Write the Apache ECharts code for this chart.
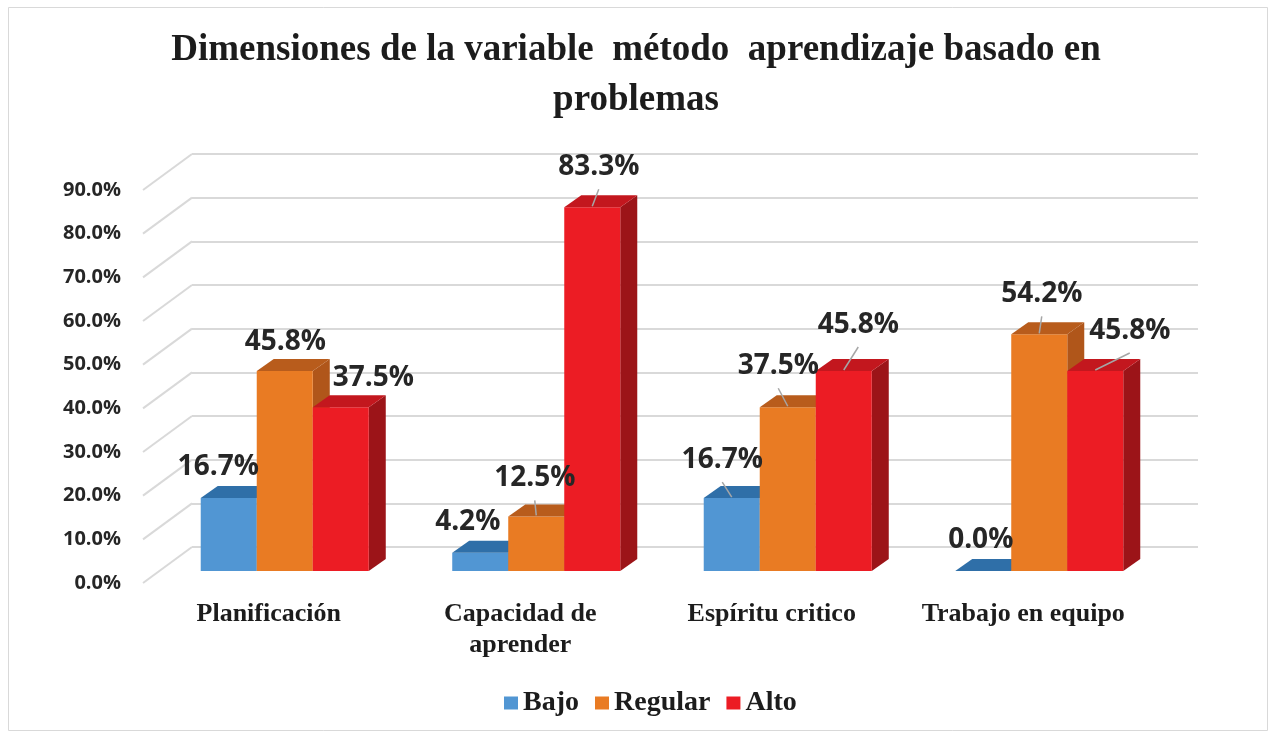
<!DOCTYPE html>
<html>
<head>
<meta charset="utf-8">
<script src="https://cdn.jsdelivr.net/npm/echarts@6/dist/echarts.min.js"></script>
<style>
  html, body { margin: 0; padding: 0; background: #fff; }
  #chart { width: 1272px; height: 738px; }
</style>
</head>
<body>
<div id="chart"></div>
<script>
// datos
const categories = ['Planificación', 'Capacidad de\naprender', 'Espíritu critico', 'Trabajo en equipo'];
const bajo = [16.7, 4.2, 16.7, 0.0];
const regular = [45.8, 12.5, 37.5, 54.2];
const alto = [37.5, 83.3, 45.8, 45.8];
const yTicks = [0, 10, 20, 30, 40, 50, 60, 70, 80, 90];

// estilo de las barras 3D
const DX = 17, DY = -12;
const barColors = [
  { front: '#5196d3', top: '#2f6fa8', side: '#2a6399' },
  { front: '#e97b23', top: '#b85c1c', side: '#b0561a' },
  { front: '#ec1c24', top: '#c3171e', side: '#9c1418' }
];
// desplazamiento de etiquetas respecto a la cara superior
const labelOffsets = [
  [[-19, -25], [-21, -25], [-18, -32], [-11, -25]],
  [[-8, -23], [-10, -32], [-18, -35], [-6, -34]],
  [[24, -23], [-2, -34], [6, -40], [26, -34]]
];
const leaders = [
  [0, 0, 1, 0],
  [0, 1, 1, 1],
  [0, 1, 1, 1]
];

function bar3d(idx) {
  return function (params, api) {
    const cat = api.value(0);
    const v = api.value(1);
    const base = api.coord([cat, 0]);
    const top = api.coord([cat, v]);
    const band = api.size([1, 0])[0];
    const w = band * 0.2227;
    const cx = base[0] + (idx - 1) * w;
    const x0 = cx - w / 2, x1 = cx + w / 2;
    const c = barColors[idx];
    const children = [
      {
        type: 'polygon',
        shape: { points: [[x1, top[1]], [x1 + DX, top[1] + DY], [x1 + DX, base[1] + DY], [x1, base[1]]] },
        style: { fill: c.side }
      },
      {
        type: 'rect',
        shape: { x: x0, y: top[1], width: w, height: base[1] - top[1] },
        style: { fill: c.front }
      },
      {
        type: 'polygon',
        shape: { points: [[x0, top[1]], [x1, top[1]], [x1 + DX, top[1] + DY], [x0 + DX, top[1] + DY]] },
        style: { fill: c.top }
      }
    ];
    const off = labelOffsets[idx][params.dataIndex];
    const lx = cx + DX / 2 + off[0];
    const ly = top[1] + DY / 2 + off[1];
    if (leaders[idx][params.dataIndex]) {
      children.push({
        type: 'line',
        z2: 50,
        shape: { x1: lx, y1: ly + 22, x2: cx, y2: top[1] - 1 },
        style: { stroke: '#a6a6a6', lineWidth: 1.5 }
      });
    }
    children.push({
      type: 'text',
      z2: 100,
      style: {
        x: lx, y: ly,
        text: v.toFixed(1) + '%',
        align: 'center',
        verticalAlign: 'middle',
        fill: '#262626',
        font: 'bold 28px "Open Sans"'
      }
    });
    return { type: 'group', children: children };
  };
}

function diagonal(params, api) {
  const y = api.coord([0, api.value(1)])[1];
  const x = params.coordSys.x;
  return {
    type: 'line',
    shape: { x1: x, y1: y, x2: x + 49, y2: y - 36 },
    style: { stroke: '#d9d9d9', lineWidth: 2 }
  };
}

const chart = echarts.init(document.getElementById('chart'));
const yBase = { type: 'value', min: 0, max: 90, interval: 10 };
const option = {
  backgroundColor: '#fff',
  animation: false,
  title: {
    text: 'Dimensiones de la variable  método  aprendizaje basado en\nproblemas',
    left: 'center',
    top: 25,
    padding: 0,
    textStyle: {
      fontFamily: 'Liberation Serif',
      fontWeight: 'bold',
      fontSize: 37,
      lineHeight: 50,
      color: '#1c1c1c'
    }
  },
  graphic: [{
    type: 'rect',
    shape: { x: 8.5, y: 7.5, width: 1259, height: 723 },
    style: { fill: 'none', stroke: '#d9d9d9', lineWidth: 1 }
  }],
  legend: {
    data: ['Bajo', 'Regular', 'Alto'],
    left: 504,
    top: 689,
    padding: 0,
    icon: 'rect',
    itemWidth: 14,
    itemHeight: 13,
    itemGap: 16,
    textStyle: {
      fontFamily: 'Liberation Serif',
      fontWeight: 'bold',
      fontSize: 28,
      lineHeight: 28,
      color: '#1c1c1c'
    }
  },
  grid: [
    { left: 192, right: 74, top: 154, bottom: 191 },
    { left: 159, right: 107, top: 178, bottom: 167 },
    { left: 143, right: 123, top: 190, bottom: 155 }
  ],
  xAxis: [
    { type: 'category', gridIndex: 0, data: categories, show: false },
    { type: 'category', gridIndex: 1, data: categories, show: false },
    {
      type: 'category', gridIndex: 2, data: categories,
      axisLine: { show: false },
      axisTick: { show: false },
      axisLabel: {
        margin: 16,
        interval: 0,
        fontFamily: 'Liberation Serif',
        fontWeight: 'bold',
        fontSize: 26,
        lineHeight: 31,
        color: '#1c1c1c'
      }
    }
  ],
  yAxis: [
    Object.assign({}, yBase, {
      gridIndex: 0,
      axisLine: { show: false },
      axisTick: { show: false },
      axisLabel: { show: false },
      splitLine: { show: true, lineStyle: { color: '#d9d9d9', width: 2 } }
    }),
    Object.assign({}, yBase, { gridIndex: 1, show: false, splitLine: { show: false } }),
    Object.assign({}, yBase, {
      gridIndex: 2,
      axisLine: { show: false },
      axisTick: { show: false },
      splitLine: { show: false },
      axisLabel: {
        margin: 22,
        fontFamily: 'Open Sans',
        fontWeight: 'bold',
        fontSize: 20,
        color: '#262626',
        formatter: function (v) { return v.toFixed(1) + '%'; }
      }
    })
  ],
  series: [
    {
      name: 'diagonales',
      type: 'custom',
      xAxisIndex: 2,
      yAxisIndex: 2,
      renderItem: diagonal,
      data: yTicks.map(function (v) { return [0, v]; }),
      silent: true
    },
    {
      name: 'Bajo', type: 'custom', xAxisIndex: 1, yAxisIndex: 1,
      itemStyle: { color: barColors[0].front },
      renderItem: bar3d(0),
      data: bajo.map(function (v, i) { return [i, v]; })
    },
    {
      name: 'Regular', type: 'custom', xAxisIndex: 1, yAxisIndex: 1,
      itemStyle: { color: barColors[1].front },
      renderItem: bar3d(1),
      data: regular.map(function (v, i) { return [i, v]; })
    },
    {
      name: 'Alto', type: 'custom', xAxisIndex: 1, yAxisIndex: 1,
      itemStyle: { color: barColors[2].front },
      renderItem: bar3d(2),
      data: alto.map(function (v, i) { return [i, v]; })
    }
  ]
};
chart.setOption(option, true);
</script>
</body>
</html>
